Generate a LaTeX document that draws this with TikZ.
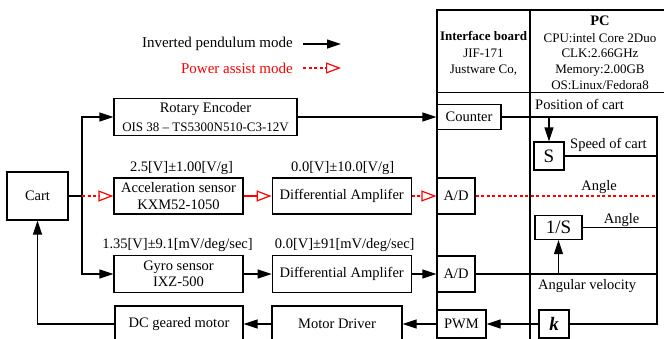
\documentclass[tikz,border=0pt]{standalone}
\usepackage{fontspec}
\setmainfont{Liberation Serif}
\usetikzlibrary{arrows.meta, positioning}

\begin{document}
\begin{tikzpicture}[
    x=1pt, y=-1pt,
    font=\fontsize{14.5}{16.5}\selectfont,
    block/.style={rectangle, draw, line width=1.2pt, inner sep=0pt, align=center},
    port/.style={block, minimum width=38pt, minimum height=36pt},
    op/.style={block, font=\fontsize{19}{19}\selectfont},
    tag/.style={inner sep=0pt},
    link/.style={line width=1.2pt},
    arrow/.style={link, -{Triangle[length=14pt, width=9pt]}},
    redarrow/.style={link, red, -{Triangle[open, length=15pt, width=11pt]}},
    reddash/.style={dash pattern=on 3pt off 2.5pt}
]
\useasboundingbox (0,0) rectangle (664,338);
\clip (0,0) rectangle (664,338);

% Legend
\node[tag, anchor=east, font=\fontsize{15}{17}\selectfont] (leg_ipm) at (293,44) {Inverted pendulum mode};
\node[tag, anchor=east, text=red, font=\fontsize{15}{17}\selectfont] (leg_pam) at (293,68) {Power assist mode};
\coordinate (leg_ipm_a) at (303,44);
\coordinate (leg_ipm_b) at (341,44);
\coordinate (leg_pam_a) at (303,68);
\coordinate (leg_pam_b) at (341,68);

% Cart and sensors
\node[block, minimum width=61pt, minimum height=48pt] (cart) at (37.5,196) {Cart};
\coordinate (cart_jn) at (82,196);
\node[block, minimum width=183pt, minimum height=37pt] (rot_enc) at (205.5,117) {Rotary Encoder\\[2pt]{\fontsize{13}{13}\selectfont OIS 38 -- TS5300N510-C3-12V}};
\node[block, minimum width=129pt, minimum height=36pt] (accel) at (178.5,196) {Acceleration sensor\\KXM52-1050};
\node[block, minimum width=139pt, minimum height=36pt, right=28pt of accel] (acc_amp) {Differential Amplifer};
\node[block, minimum width=129pt, minimum height=37pt] (gyro) at (178.5,274) {Gyro sensor\\IXZ-500};
\node[block, minimum width=139pt, minimum height=37pt, right=28pt of gyro] (gyro_amp) {Differential Amplifer};

% Sensor ranges
\node[tag, above=3pt of accel, xshift=3pt] (acc_rng) {2.5[V]±1.00[V/g]};
\node[tag, above=3pt of acc_amp, xshift=1pt] (acc_amp_rng) {0.0[V]±10.0[V/g]};
\node[tag, above=3pt of gyro, xshift=-1pt] (gyro_rng) {1.35[V]±9.1[mV/deg/sec]};
\node[tag, above=3pt of gyro_amp, xshift=3pt] (gyro_amp_rng) {0.0[V]±91[mV/deg/sec]};

% Actuators
\node[block, minimum width=128pt, minimum height=36pt] (dc_motor) at (179,324) {DC geared motor};
\node[block, minimum width=130pt, minimum height=36pt] (mot_drv) at (337,324) {Motor Driver};

% Interface board and PC
\draw[link] (437,345) -- (437,10) -- (670,10);
\draw[link] (530,10) -- (530,345);
\draw[link] (437,92.7) -- (670,92.7);
\node[tag, align=center, font=\fontsize{13}{16.5}\selectfont] (if_head) at (483.5,53.5) {\textbf{Interface board}\\JIF-171\\Justware Co,};
\node[tag, align=center, font=\fontsize{13}{15.7}\selectfont] (pc_head) at (600,52.5) {{\fontsize{14.5}{14.5}\selectfont\textbf{PC}}\\[1pt]CPU:intel Core 2Duo\\CLK:2.66GHz\\Memory:2.00GB\\OS:Linux/Fedora8};

\node[block, minimum width=64pt, minimum height=25pt] (counter) at (469,117) {Counter};
\node[port] (ad_acc) at (456,196) {A/D};
\node[port] (ad_gyro) at (456,274) {A/D};
\node[block, minimum width=49pt, minimum height=28pt] (pwm) at (461.5,324) {PWM};

\node[op, minimum width=30pt, minimum height=28pt] (integ) at (549,156) {S};
\node[op, minimum width=47pt, minimum height=24pt] (integ_inv) at (558.5,227.5) {1/S};
\node[op, minimum width=30pt, minimum height=28pt] (gain) at (554,324) {\textbf{\textit{k}}};

\node[tag, anchor=west] (pos_lbl) at (535,104) {Position of cart};
\node[tag, anchor=west] (spd_lbl) at (570,145) {Speed of cart};
\node[tag] (ang_lbl) at (599,187) {Angle};
\node[tag] (ang_inv_lbl) at (621.5,220) {Angle};
\node[tag, anchor=west] (angvel_lbl) at (538,286) {Angular velocity};

\coordinate (bus_top) at (657,117);
\coordinate (bus_bot) at (657,324);

% Connections
\draw[arrow] (leg_ipm_a) -- (leg_ipm_b);
\draw[redarrow, reddash] (leg_pam_a) -- (leg_pam_b);

\draw[link] (cart.east) -- (cart_jn);
\draw[arrow] (cart_jn) |- (rot_enc.west);
\draw[arrow] (cart_jn) |- (gyro.west);
\draw[redarrow, reddash] (cart_jn) -- (accel.west);

\draw[arrow] (rot_enc) -- (counter);
\draw[redarrow] (accel) -- (acc_amp);
\draw[redarrow, reddash] (acc_amp) -- (ad_acc);
\draw[arrow] (gyro) -- (gyro_amp);
\draw[arrow] (gyro_amp) -- (ad_gyro);

\draw[link] (counter.east) -- (bus_top) -- (bus_bot) -- (gain.east);
\draw[arrow] (integ.north |- bus_top) -- (integ.north);
\draw[link] (integ.east) -- (integ.east -| bus_top);
\draw[link, red, reddash] (ad_acc.east) -- (ad_acc.east -| bus_top);
\draw[link] (integ_inv.east) -- (integ_inv.east -| bus_top);
\draw[link] (ad_gyro.east) -- (ad_gyro.east -| bus_top);
\draw[arrow] (integ_inv.south |- ad_gyro.east) -- (integ_inv.south);

\draw[arrow] (gain) -- (pwm);
\draw[arrow] (pwm) -- (mot_drv);
\draw[arrow] (mot_drv) -- (dc_motor);
\draw[arrow] (dc_motor.west) -| (cart.south);

\end{tikzpicture}
\end{document}
